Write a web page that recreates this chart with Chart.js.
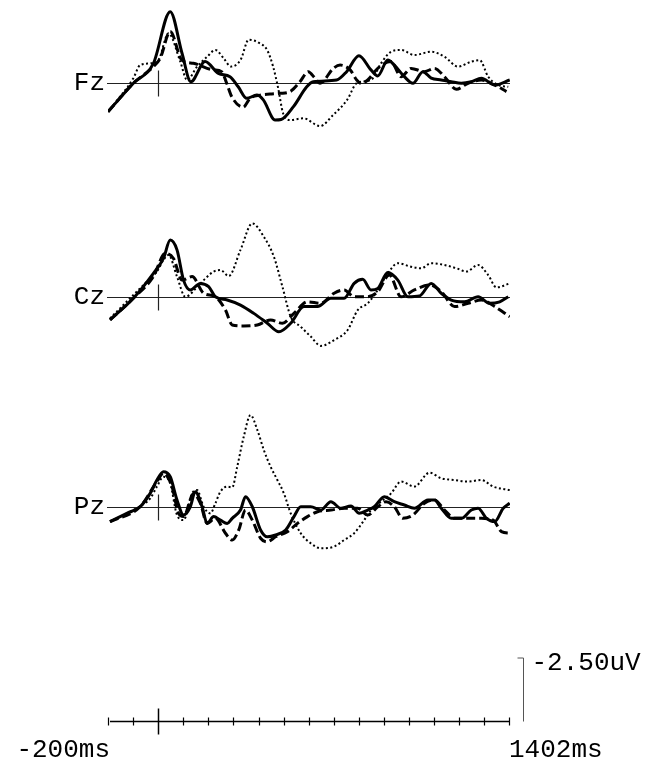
<!DOCTYPE html>
<html><head><meta charset="utf-8">
<script src="https://cdn.jsdelivr.net/npm/chart.js@4/dist/chart.umd.min.js"></script>
<style>html,body{margin:0;padding:0;background:#fff}#wrap{position:relative;width:654px;height:762px}canvas{display:block}</style>
</head><body><div id="wrap"><canvas id="c" width="654" height="762"></canvas></div>
<script>
// ---- data (time in ms, amplitude in uV; negative plotted upward) ----
const channels = ['Fz', 'Cz', 'Pz'];
const timeTicks = [-200,-100,0,100,200,300,400,500,600,700,800,900,1000,1100,1200,1300,1400];
const timeStart = -200, timeEnd = 1402;
const scaleBarUV = -2.5;
const xLabels = ['-200ms', '1402ms'];
const scaleLabel = '-2.50uV';

const fzSolid = [[-200,1.14],[-99,0.01],[-19,-0.78],[48,-2.83],[95,-1.18],[130,-0.05],[187,-0.85],[240,-0.38],[286,-0.25],[319,0.15],[353,0.61],[393,0.48],[419,0.67],[466,1.47],[490,1.45],[539,0.94],[592,0.15],[618,-0.05],[711,-0.12],[751,-0.45],[800,-1.08],[848,-0.52],[875,-0.28],[915,-0.91],[941,-0.71],[981,-0.25],[1015,0.01],[1055,-0.45],[1088,-0.19],[1128,-0.12],[1168,-0.05],[1208,0.01],[1248,-0.05],[1288,-0.19],[1341,0.08],[1401,-0.12]];
const fzDashed = [[-200,1.14],[-99,0.01],[-19,-0.65],[8,-0.98],[48,-2.04],[94,-0.91],[140,-0.78],[220,-0.52],[253,-0.45],[273,0.01],[293,0.54],[339,0.96],[366,0.61],[406,0.48],[446,0.44],[486,0.41],[526,0.34],[565,-0.05],[598,-0.45],[625,-0.19],[645,0.01],[698,-0.58],[725,-0.71],[765,-0.52],[791,-0.12],[808,0.01],[835,-0.12],[875,-0.58],[928,-0.85],[968,-0.25],[1008,-0.58],[1061,-0.45],[1101,-0.58],[1141,-0.25],[1188,0.25],[1235,0.01],[1288,-0.12],[1341,0.08],[1388,0.34]];
const fzDotted = [[-200,1.14],[-99,-0.19],[-72,-0.71],[-32,-0.78],[1,-0.91],[41,-1.97],[88,-0.85],[115,-0.12],[155,-0.65],[195,-1.04],[228,-1.31],[261,-0.98],[290,-0.65],[328,-0.91],[361,-1.72],[400,-1.6],[434,-1.31],[458,-0.65],[478,0.20],[498,1.21],[526,1.47],[578,1.40],[645,1.71],[697,1.27],[753,0.67],[792,0.0],[848,-0.12],[888,-0.78],[928,-1.24],[968,-1.31],[1021,-1.11],[1088,-1.24],[1141,-1.04],[1195,-0.65],[1248,-0.85],[1281,-0.91],[1315,-0.25],[1355,0.08],[1395,0.15]];

const czSolid = [[-192,0.91],[-99,0.05],[-19,-0.94],[21,-1.53],[48,-2.26],[75,-1.87],[101,-0.67],[128,-0.28],[168,-0.54],[201,-0.41],[228,-0.01],[275,0.12],[328,0.32],[381,0.65],[435,1.04],[481,1.38],[528,1.04],[581,0.38],[635,0.38],[688,0.05],[741,0.05],[781,-0.54],[815,-0.70],[848,-0.28],[875,-0.34],[915,-0.97],[955,-0.67],[995,-0.01],[1041,-0.04],[1088,-0.54],[1128,-0.15],[1168,0.12],[1221,0.19],[1275,-0.01],[1321,0.25],[1361,0.19],[1395,-0.01]];
const czDashed = [[-192,0.91],[-99,0.05],[-19,-0.81],[28,-1.73],[61,-1.53],[95,-0.67],[135,-0.81],[181,-0.15],[228,-0.01],[268,0.52],[295,1.11],[341,1.15],[395,1.11],[448,0.91],[495,1.04],[541,0.65],[595,0.19],[648,0.25],[701,-0.15],[741,-0.28],[781,-0.01],[835,-0.01],[875,-0.21],[921,-0.87],[968,-0.01],[1021,-0.28],[1081,-0.48],[1128,-0.21],[1181,0.38],[1235,0.25],[1288,0.12],[1341,0.38],[1401,0.78]];
const czDotted = [[-192,0.85],[-99,-0.08],[-45,-0.61],[-5,-1.01],[21,-1.47],[41,-1.67],[75,-0.81],[108,-0.01],[168,-0.54],[221,-1.01],[248,-1.07],[281,-0.83],[328,-1.87],[375,-2.92],[421,-2.39],[461,-1.60],[495,-0.41],[528,0.78],[568,1.18],[608,1.57],[648,1.94],[701,1.71],[755,1.31],[795,0.52],[835,0.25],[875,-0.28],[915,-0.94],[955,-1.34],[1008,-1.20],[1048,-1.14],[1088,-1.34],[1141,-1.27],[1188,-1.14],[1228,-1.01],[1275,-1.27],[1315,-0.87],[1348,-0.38],[1401,-0.54]];

const pzSolid = [[-192,0.58],[-125,0.25],[-72,-0.01],[-32,-0.54],[-5,-1.07],[21,-1.40],[48,-1.20],[75,-0.28],[101,0.32],[128,-0.01],[148,-0.61],[175,-0.01],[195,0.65],[221,0.38],[248,0.52],[275,0.65],[295,0.45],[328,0.12],[348,-0.41],[375,-0.01],[408,0.91],[435,1.18],[468,1.11],[508,0.91],[541,0.38],[568,-0.01],[608,-0.01],[648,0.12],[688,-0.21],[728,0.05],[768,-0.04],[801,0.25],[835,0.12],[861,-0.01],[901,-0.41],[941,-0.21],[981,-0.08],[1021,0.05],[1075,-0.28],[1101,-0.28],[1128,0.05],[1168,0.45],[1208,0.45],[1248,0.12],[1275,0.05],[1308,0.45],[1341,0.58],[1375,0.05],[1401,-0.15]];
const pzDashed = [[-192,0.58],[-72,-0.01],[-5,-1.01],[21,-1.34],[55,-0.81],[81,0.25],[101,0.38],[141,-0.54],[168,-0.15],[195,0.65],[228,0.45],[268,1.04],[295,1.31],[321,0.91],[348,0.12],[375,0.52],[408,1.24],[435,1.38],[468,1.18],[515,0.98],[555,0.65],[595,0.38],[635,0.19],[688,0.12],[741,0.05],[795,0.05],[835,0.32],[875,-0.01],[908,-0.21],[941,-0.01],[975,0.45],[1015,0.32],[1061,-0.15],[1101,-0.28],[1141,0.12],[1181,0.45],[1221,0.45],[1288,0.45],[1335,0.52],[1368,0.98],[1401,1.04]];
const pzDotted = [[-192,0.58],[-72,-0.04],[-32,-0.34],[-5,-0.81],[21,-1.20],[48,-0.94],[75,0.32],[101,0.52],[135,-0.54],[155,-0.67],[181,-0.01],[208,0.25],[228,-0.15],[248,-0.61],[275,-0.81],[295,-0.78],[315,-1.60],[341,-2.79],[368,-3.65],[395,-3.06],[421,-2.26],[448,-1.60],[475,-1.07],[501,-0.54],[528,0.25],[568,1.04],[608,1.44],[648,1.64],[701,1.57],[741,1.31],[781,1.04],[821,0.52],[848,0.12],[888,-0.21],[928,-0.54],[968,-1.01],[1021,-0.81],[1081,-1.36],[1128,-1.14],[1181,-1.07],[1235,-1.01],[1288,-1.07],[1335,-0.81],[1401,-0.67]];

// ---- layout / style constants ----
const W = 654, H = 762;
const PX_PER_UV = 63 / 2.5;
const AREA = { left: 108, right: 510, top: 0, bottom: 721 };
const BASE_PX = { Fz: 83, Cz: 297, Pz: 507 };
const AREA_H = AREA.bottom - AREA.top;
const FONT = '26px "Liberation Mono", "DejaVu Sans Mono", monospace';

function chanScale(basePx) {
  const min = -(basePx - AREA.top) / PX_PER_UV;
  return { type: 'linear', display: false, reverse: true, bounds: 'data', min: min, max: min + AREA_H / PX_PER_UV };
}
const toXY = arr => arr.map(p => ({ x: p[0], y: p[1] }));
const styles = {
  dotted: { borderWidth: 2, borderDash: [2, 2.5] },
  dashed: { borderWidth: 3, borderDash: [9, 4] },
  solid:  { borderWidth: 3, borderDash: [] }
};
const series = [
  ['Fz', 'dotted', fzDotted], ['Fz', 'dashed', fzDashed], ['Fz', 'solid', fzSolid],
  ['Cz', 'dotted', czDotted], ['Cz', 'dashed', czDashed], ['Cz', 'solid', czSolid],
  ['Pz', 'dotted', pzDotted], ['Pz', 'dashed', pzDashed], ['Pz', 'solid', pzSolid]
];
const datasets = series.map(([ch, st, arr]) => Object.assign({
  label: ch + ' ' + st,
  data: toXY(arr),
  yAxisID: 'y' + ch,
  xAxisID: 'x',
  borderColor: '#000',
  pointRadius: 0,
  fill: false,
  cubicInterpolationMode: 'monotone',
  borderCapStyle: 'butt',
  borderJoinStyle: 'round'
}, styles[st]));

const scales = { x: { type: 'linear', display: false, bounds: 'data', min: timeStart, max: timeEnd } };
channels.forEach(ch => { scales['y' + ch] = chanScale(BASE_PX[ch]); });
scales.yAxis = chanScale(AREA.bottom);

const decor = {
  id: 'decor',
  beforeDatasetsDraw(chart) {
    const ctx = chart.ctx, x = chart.scales.x;
    ctx.save();
    // channel baselines, zero ticks and labels
    channels.forEach(ch => {
      const ys = chart.scales['y' + ch];
      const y0 = Math.round(ys.getPixelForValue(0)) + 0.5;
      ctx.strokeStyle = '#222'; ctx.lineWidth = 1.2;
      ctx.beginPath(); ctx.moveTo(x.getPixelForValue(timeStart) - 1, y0); ctx.lineTo(x.getPixelForValue(timeEnd), y0); ctx.stroke();
      const xz = Math.round(x.getPixelForValue(0)) + 0.5;
      ctx.beginPath(); ctx.moveTo(xz, y0 - 13); ctx.lineTo(xz, y0 + 13); ctx.stroke();
      ctx.fillStyle = '#000'; ctx.font = FONT; ctx.textAlign = 'right'; ctx.textBaseline = 'middle';
      ctx.fillText(ch, x.getPixelForValue(timeStart) - 3, y0);
    });
    // bottom time axis
    const ya = chart.scales.yAxis;
    const yb = Math.round(ya.getPixelForValue(0)) + 0.5;
    ctx.strokeStyle = '#000'; ctx.lineWidth = 1.5;
    ctx.beginPath(); ctx.moveTo(x.getPixelForValue(timeStart) + 2, yb); ctx.lineTo(x.getPixelForValue(timeEnd), yb); ctx.stroke();
    timeTicks.forEach(t => {
      const xt = Math.round(x.getPixelForValue(t)) + 0.5;
      const h = t === 0 ? 13 : 4;
      ctx.lineWidth = t === 0 ? 1.5 : 1.2;
      ctx.beginPath(); ctx.moveTo(xt, yb - h); ctx.lineTo(xt, yb + h); ctx.stroke();
    });
    // scale bar
    const xs = Math.round(x.getPixelForValue(timeEnd)) + 13.5;
    const yTop = ya.getPixelForValue(scaleBarUV);
    ctx.strokeStyle = '#555'; ctx.lineWidth = 1;
    ctx.beginPath(); ctx.moveTo(xs - 6, yTop); ctx.lineTo(xs, yTop); ctx.lineTo(xs, yb); ctx.stroke();
    ctx.fillStyle = '#000'; ctx.font = FONT; ctx.textBaseline = 'alphabetic';
    ctx.textAlign = 'left';
    ctx.fillText(scaleLabel, xs + 8, yTop + 12);
    ctx.textAlign = 'right';
    ctx.fillText(xLabels[0], x.getPixelForValue(timeStart) + 2, 757);
    ctx.textAlign = 'left';
    ctx.fillText(xLabels[1], x.getPixelForValue(timeEnd) - 1, 757);
    ctx.restore();
  }
};

new Chart(document.getElementById('c'), {
  type: 'line',
  data: { datasets: datasets },
  options: {
    responsive: false,
    devicePixelRatio: 1,
    animation: false,
    layout: { padding: { left: AREA.left, right: W - AREA.right, top: AREA.top, bottom: H - AREA.bottom } },
    scales: scales,
    plugins: { legend: { display: false }, tooltip: { enabled: false } },
    elements: { line: { tension: 0.4 } }
  },
  plugins: [decor]
});
</script>
</body></html>
